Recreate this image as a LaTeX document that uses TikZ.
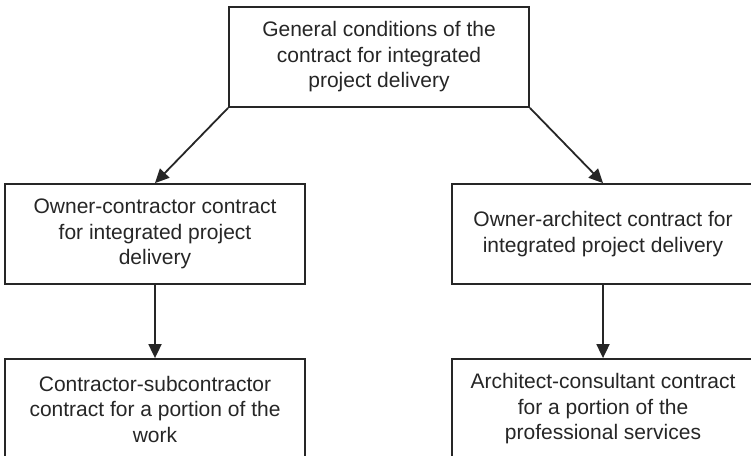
\documentclass[tikz,border=0pt]{standalone}
\usepackage{fontspec}
\setmainfont{Liberation Sans}
\usetikzlibrary{arrows.meta}
\begin{document}
\begin{tikzpicture}[x=1pt,y=-1pt,
  box/.style={draw=black!85,line width=1.8pt,fill=white,minimum width=300pt,minimum height=100pt,
    inner sep=0pt,align=center,font=\fontsize{21}{25.5}\selectfont,text=black!85},
  conn/.style={draw=black!85,line width=1.8pt,-{Triangle[length=14pt,width=13pt]}}]
\useasboundingbox (0,0) rectangle (751,455);
\clip (0,0) rectangle (751,455);
\node[box] (gc) at (379,57) {General conditions of the\\contract for integrated\\project delivery};
\node[box] (oc) at (155,234) {Owner-contractor contract\\for integrated project\\delivery};
\node[box,minimum width=302pt] (oa) at (603,234) {Owner-architect contract for\\integrated project delivery};
\node[box] (cs) at (155,409) {Contractor-subcontractor\\contract for a portion of the\\work};
\node[box,minimum width=302pt] (ac) at (603,409) {Architect-consultant contract\\for a portion of the\\professional services};
\draw[conn] (gc.south west) -- (oc.north);
\draw[conn] (gc.south east) -- (oa.north);
\draw[conn] (oc.south) -- (cs.north);
\draw[conn] (oa.south) -- (ac.north);
\end{tikzpicture}
\end{document}
